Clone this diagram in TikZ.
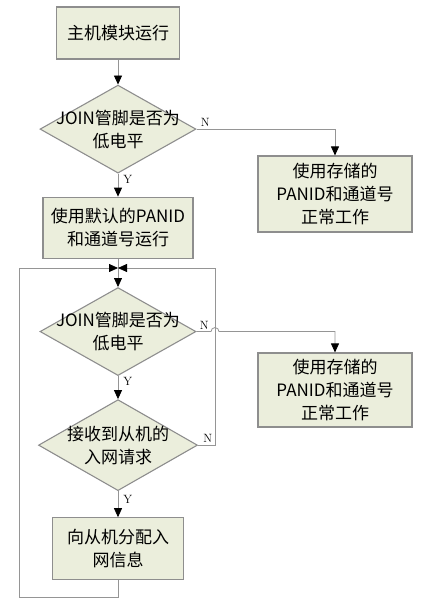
\documentclass[tikz,border=0pt]{standalone}
\usepackage{fontspec}
\newfontfamily\cjk{Noto Sans CJK SC}
\usepackage{tikz}
\usetikzlibrary{arrows.meta,positioning,calc,shapes.geometric}
\definecolor{boxfill}{HTML}{EBEEDC}
\definecolor{boxline}{HTML}{8E8E8E}
\definecolor{flowline}{HTML}{959595}
\tikzset{
  procbox/.style={draw=boxline,fill=boxfill,line width=1.1pt,align=center,inner sep=2pt,font=\cjk\fontsize{17}{23}\selectfont},
  decision/.style={diamond,draw=boxline,fill=boxfill,line width=1.1pt,inner sep=0pt,minimum width=156pt,minimum height=88pt},
  dtxt/.style={align=center,inner sep=0pt,font=\cjk\fontsize{17}{23}\selectfont},
  lbl/.style={font=\fontsize{12}{14}\selectfont,inner sep=2pt},
  line/.style={draw=flowline,line width=0.8pt},
  arr/.style={line,-{Triangle[length=9pt,width=8pt,color=black]}}
}
\begin{document}
\begin{tikzpicture}
  \useasboundingbox (0,0) rectangle (429pt,-600pt);
  %% main column
  \node[procbox,minimum width=123pt,minimum height=52pt] (start) at (118pt,-33pt) {主机模块运行};
  \node[decision,below=25pt of start,label={[dtxt]center:JOIN管脚是否为\\低电平}] (d1) {};
  \node[procbox,minimum width=150pt,minimum height=61pt,below=23pt of d1] (b2) {使用默认的PANID\\和通道号运行};
  \coordinate (j) at (118pt,-268pt);
  \node[decision,below=19pt of j,label={[dtxt]center:JOIN管脚是否为\\低电平}] (d2) {};
  \node[decision,minimum width=159pt,minimum height=91pt,below=23pt of d2,label={[dtxt]center:接收到从机的\\入网请求}] (d3) {};
  \node[procbox,minimum width=131pt,minimum height=62pt,below=26pt of d3] (b4) {向从机分配入\\网信息};
  %% right column
  \node[procbox,minimum width=154pt,minimum height=76pt] (r1) at (335pt,-194pt) {使用存储的\\PANID和通道号\\正常工作};
  \node[procbox,minimum width=154pt,minimum height=74pt] (r2) at (335pt,-390pt) {使用存储的\\PANID和通道号\\正常工作};
  %% loop corners
  \coordinate (loopW) at (19pt,-268pt);
  \coordinate (loopE) at (215pt,-268pt);
  %% connectors
  \draw[arr] (start) -- (d1);
  \draw[arr] (d1.east) node[lbl,above right,xshift=2pt] {N} -| (r1.north);
  \draw[arr] (d1.south) -- node[lbl,pos=0.25,right,xshift=3pt] {Y} (b2.north);
  \draw[line] (b2.south) -- (j);
  \draw[arr] (j) -- (d2.north);
  \draw[arr] (d2.east) node[lbl,above right,xshift=1pt] {N} -- ($(loopE|-d2.east)+(-4pt,0)$) arc[start angle=180,end angle=0,radius=4pt] -| (r2.north);
  \draw[arr] (d2.south) -- node[lbl,pos=0.25,right,xshift=3pt] {Y} (d3.north);
  \draw[arr] (d3.east) node[lbl,above right,xshift=3pt] {N} -| (loopE) -- (j);
  \draw[arr] (d3.south) -- node[lbl,pos=0.3,right,xshift=3pt] {Y} (b4.north);
  \draw[arr] (b4.south) -- ++(0,-17pt) -| (loopW) -- (j);
\end{tikzpicture}
\end{document}
